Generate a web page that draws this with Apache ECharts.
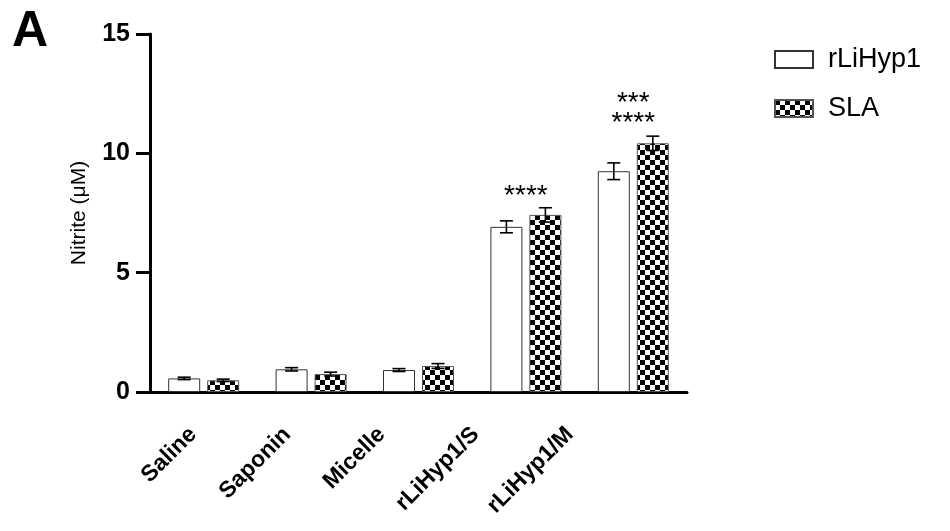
<!DOCTYPE html>
<html>
<head>
<meta charset="utf-8">
<script src="https://cdn.jsdelivr.net/npm/echarts@6/dist/echarts.min.js"></script>
<style>html,body{margin:0;padding:0;background:#fff}#c{width:950px;height:531px}</style>
</head>
<body>
<div id="c"></div>
<script>
// ---- data ----
var categories = ['Saline', 'Saponin', 'Micelle', 'rLiHyp1/S', 'rLiHyp1/M'];
var seriesNames = ['rLiHyp1', 'SLA'];
var rLiHyp1Mean = [0.57, 0.95, 0.92, 6.92, 9.25];
var rLiHyp1Err  = [0.05, 0.07, 0.06, 0.25, 0.35];
var slaMean = [0.49, 0.75, 1.09, 7.42, 10.42];
var slaErr  = [0.05, 0.08, 0.10, 0.30, 0.30];
var yTicks = [0, 5, 10, 15];
var sigCategory = ['rLiHyp1/S', 'rLiHyp1/M', 'rLiHyp1/M'];
var sigValue = [8.2, 11.25, 12.1];
var sigText = ['****', '****', '***'];

// ---- styles ----
var BAR_W = 32, BAR_GAP = 7;
var FONT = '"Liberation Sans", Arial, sans-serif';

function checker() {
  var c = document.createElement('canvas');
  c.width = 10; c.height = 10;
  var g = c.getContext('2d');
  g.fillStyle = '#fff'; g.fillRect(0, 0, 10, 10);
  g.fillStyle = '#000';
  g.fillRect(0, 0, 5, 5); g.fillRect(5, 5, 5, 5);
  return c;
}
var checkerPattern = { image: checker(), repeat: 'repeat' };

function errSeries(means, errs, sign) {
  var data = means.map(function (m, i) { return [i, m, errs[i]]; });
  return {
    type: 'custom',
    silent: true,
    z: 5,
    data: data,
    renderItem: function (params, api) {
      var idx = api.value(0), m = api.value(1), e = api.value(2);
      var top = api.coord([idx, m + e]);
      var bot = api.coord([idx, m - e]);
      var x = top[0] + sign * (BAR_W + BAR_GAP) / 2;
      var cap = 6.5;
      var st = { stroke: '#000', lineWidth: 1.6 };
      return {
        type: 'group',
        children: [
          { type: 'line', shape: { x1: x, y1: top[1], x2: x, y2: bot[1] }, style: st },
          { type: 'line', shape: { x1: x - cap, y1: top[1], x2: x + cap, y2: top[1] }, style: st },
          { type: 'line', shape: { x1: x - cap, y1: bot[1], x2: x + cap, y2: bot[1] }, style: st }
        ]
      };
    }
  };
}

var chart = echarts.init(document.getElementById('c'));
chart.setOption({
  animation: false,
  backgroundColor: '#fff',
  title: {
    text: 'A', left: 7, top: 2,
    textStyle: { fontFamily: FONT, fontSize: 50, fontWeight: 'bold', color: '#000' }
  },
  legend: {
    orient: 'vertical',
    left: 769, top: 41,
    icon: 'rect',
    itemWidth: 38, itemHeight: 17,
    itemGap: 22,
    data: seriesNames,
    textStyle: { fontFamily: FONT, fontSize: 27, color: '#000', padding: [0, 0, 0, 10] }
  },
  grid: [
    { left: 150, right: 263, top: 34, bottom: 139, containLabel: false },
    { left: 146, width: 471, top: 34, bottom: 139, containLabel: false }
  ],
  xAxis: [
    {
      type: 'category',
      gridIndex: 0,
      data: categories,
      axisLine: { lineStyle: { color: '#000', width: 3 } },
      axisTick: { show: false },
      axisLabel: { show: false }
    },
    {
      type: 'category',
      gridIndex: 1,
      data: categories,
      axisLine: { show: false },
      axisTick: { show: false },
      axisLabel: {
        rotate: 45, margin: 39, interval: 0,
        fontFamily: FONT, fontSize: 23, fontWeight: 'bold', color: '#000'
      }
    }
  ],
  yAxis: [
    {
      type: 'value',
      gridIndex: 0,
      min: 0, max: 15, interval: 5,
      name: 'Nitrite (μM)',
      nameLocation: 'middle', nameGap: 60, nameRotate: 90,
      nameTextStyle: { fontFamily: FONT, fontSize: 21, color: '#000' },
      splitLine: { show: false },
      axisLine: { show: true, lineStyle: { color: '#000', width: 3 } },
      axisTick: { show: true, length: 14, lineStyle: { color: '#000', width: 3 } },
      axisLabel: {
        margin: 20,
        fontFamily: FONT, fontSize: 25, fontWeight: 'bold', color: '#000',
        formatter: function (v) { return yTicks.indexOf(v) >= 0 ? String(v) : ''; }
      }
    },
    {
      type: 'value',
      gridIndex: 1,
      min: 0, max: 15, interval: 5,
      show: false
    }
  ],
  series: [
    {
      name: seriesNames[0], type: 'bar', data: rLiHyp1Mean,
      barWidth: BAR_W, barGap: (BAR_GAP / BAR_W * 100) + '%',
      itemStyle: { color: '#fff', borderColor: '#333', borderWidth: 1 }
    },
    {
      name: seriesNames[1], type: 'bar', data: slaMean,
      barWidth: BAR_W,
      itemStyle: { color: checkerPattern, borderColor: '#555', borderWidth: 1 }
    },
    errSeries(rLiHyp1Mean, rLiHyp1Err, -1),
    errSeries(slaMean, slaErr, 1),
    {
      type: 'custom',
      silent: true,
      z: 6,
      data: sigCategory.map(function (c, i) { return [categories.indexOf(c), sigValue[i], i]; }),
      renderItem: function (params, api) {
        var p = api.coord([api.value(0), api.value(1)]);
        return {
          type: 'text',
          style: {
            x: p[0], y: p[1],
            text: sigText[api.value(2)],
            align: 'center', verticalAlign: 'middle',
            fontFamily: FONT, fontSize: 28, fill: '#000'
          }
        };
      }
    }
  ]
});
</script>
</body>
</html>
